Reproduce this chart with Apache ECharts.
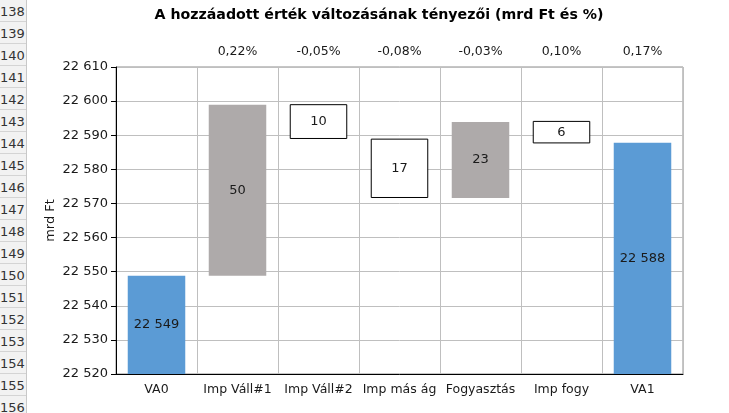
<!DOCTYPE html>
<html>
<head>
<meta charset="utf-8">
<script src="https://cdn.jsdelivr.net/npm/echarts@6/dist/echarts.min.js"></script>
<style>
  html, body { margin: 0; padding: 0; background: #fff; }
  #wrap { position: relative; width: 729px; height: 413px; overflow: hidden; }
  #chart { position: absolute; left: 0; top: 0; width: 729px; height: 413px; }
  #rows { position: absolute; left: 0; top: 0; width: 26px; height: 413px; background: #f2f2f2; border-right: 1px solid #c8c8c8; }
  #rows div { height: 21px; border-bottom: 1px solid #d4d4d4; font: 13px "DejaVu Sans", sans-serif; color: #333; text-align: right; padding-right: 2px; line-height: 23px; box-sizing: content-box; }
</style>
</head>
<body>
<div id="wrap">
  <div id="chart"></div>
  <div id="rows"></div>
</div>
<script>
// row headers of the sheet behind the chart
const rowNumbers = [138, 139, 140, 141, 142, 143, 144, 145, 146, 147, 148, 149, 150, 151, 152, 153, 154, 155, 156];

const categories = ['VA0', 'Imp Váll#1', 'Imp Váll#2', 'Imp más ág', 'Fogyasztás', 'Imp fogy', 'VA1'];
const pctLabels = ['', '0,22%', '-0,05%', '-0,08%', '-0,03%', '0,10%', '0,17%'];

// start / end totals
const totalValues = [22548.8, null, null, null, null, null, 22587.8];
const totalLabels = ['22 549', '', '', '', '', '', '22 588'];

// floating steps: low and high edge of each box
const stepLow  = [null, 22548.8, 22588.9, 22571.6, 22571.6, 22587.6, null];
const stepHigh = [null, 22598.9, 22599.1, 22589.0, 22593.9, 22594.2, null];
const stepUp   = [null, true, false, false, true, false, null];
const stepLabels = ['', '50', '10', '17', '23', '6', ''];

const yTicks = { min: 22520, max: 22610, interval: 10 };

document.getElementById('rows').innerHTML =
  rowNumbers.map(n => '<div>' + n + '</div>').join('');

const fontFamily = '"DejaVu Sans", sans-serif';

function thousand(v) {
  const s = String(Math.round(v));
  return s.replace(/\B(?=(\d{3})+(?!\d))/g, ' ');
}

const baseData = stepLow.map(v => v == null ? null : v);
const riseData = stepLow.map((v, i) => (v != null && stepUp[i]) ? +(stepHigh[i] - v).toFixed(2) : null);
const fallData = stepLow.map((v, i) => (v != null && !stepUp[i]) ? +(stepHigh[i] - v).toFixed(2) : null);

const insideLabel = {
  show: true,
  position: 'inside',
  color: '#1a1a1a',
  fontFamily: fontFamily,
  fontSize: 13,
  formatter: function (p) { return stepLabels[p.dataIndex]; }
};

const option = {
  animation: false,
  title: {
    text: 'A hozzáadott érték változásának tényezői (mrd Ft és %)',
    left: 374,
    textAlign: 'center',
    top: 3,
    textStyle: { fontFamily: fontFamily, fontWeight: 'bold', fontSize: 14.2, color: '#000' }
  },
  grid: {
    left: 116, right: 46, top: 67, bottom: 39,
    show: true, borderColor: '#8c8c8c', borderWidth: 1
  },
  xAxis: [
    {
      type: 'category',
      data: categories,
      position: 'bottom',
      axisLine: { lineStyle: { color: '#000', width: 1 } },
      axisTick: { show: false },
      axisLabel: { color: '#1a1a1a', fontFamily: fontFamily, fontSize: 12.5, margin: 9, interval: 0 },
      splitLine: { show: true, interval: 0, lineStyle: { color: '#bfbfbf' } }
    },
    {
      type: 'category',
      data: pctLabels,
      position: 'top',
      axisLine: { show: false },
      axisTick: { show: false },
      axisLabel: { color: '#1a1a1a', fontFamily: fontFamily, fontSize: 12.5, margin: 9, interval: 0 },
      splitLine: { show: false }
    }
  ],
  yAxis: {
    type: 'value',
    min: yTicks.min,
    max: yTicks.max,
    interval: yTicks.interval,
    name: 'mrd Ft',
    nameLocation: 'center',
    nameGap: 59,
    nameMoveOverlap: false,
    nameTextStyle: { color: '#1a1a1a', fontFamily: fontFamily, fontSize: 13 },
    axisLine: { show: true, lineStyle: { color: '#000', width: 1 } },
    axisTick: { show: true, inside: false, length: 5, lineStyle: { color: '#000' } },
    axisLabel: { color: '#1a1a1a', fontFamily: fontFamily, fontSize: 13, margin: 8, formatter: thousand },
    splitLine: { show: true, lineStyle: { color: '#bfbfbf' } }
  },
  series: [
    {
      name: 'base',
      type: 'bar',
      stack: 'w',
      barCategoryGap: '29%',
      data: baseData,
      itemStyle: { color: 'rgba(0,0,0,0)' },
      silent: true
    },
    {
      name: 'total',
      type: 'bar',
      stack: 'w',
      data: totalValues,
      itemStyle: { color: '#5b9bd5' },
      label: Object.assign({}, insideLabel, {
        formatter: function (p) { return totalLabels[p.dataIndex]; }
      })
    },
    {
      name: 'rise',
      type: 'bar',
      stack: 'w',
      data: riseData,
      itemStyle: { color: '#aeaaaa' },
      label: insideLabel
    },
    {
      name: 'fall',
      type: 'bar',
      stack: 'w',
      data: fallData,
      itemStyle: { color: '#ffffff', borderColor: '#000', borderWidth: 1 },
      label: insideLabel
    }
  ]
};

const chart = echarts.init(document.getElementById('chart'), null, { renderer: 'canvas' });
chart.setOption(option);
</script>
</body>
</html>
